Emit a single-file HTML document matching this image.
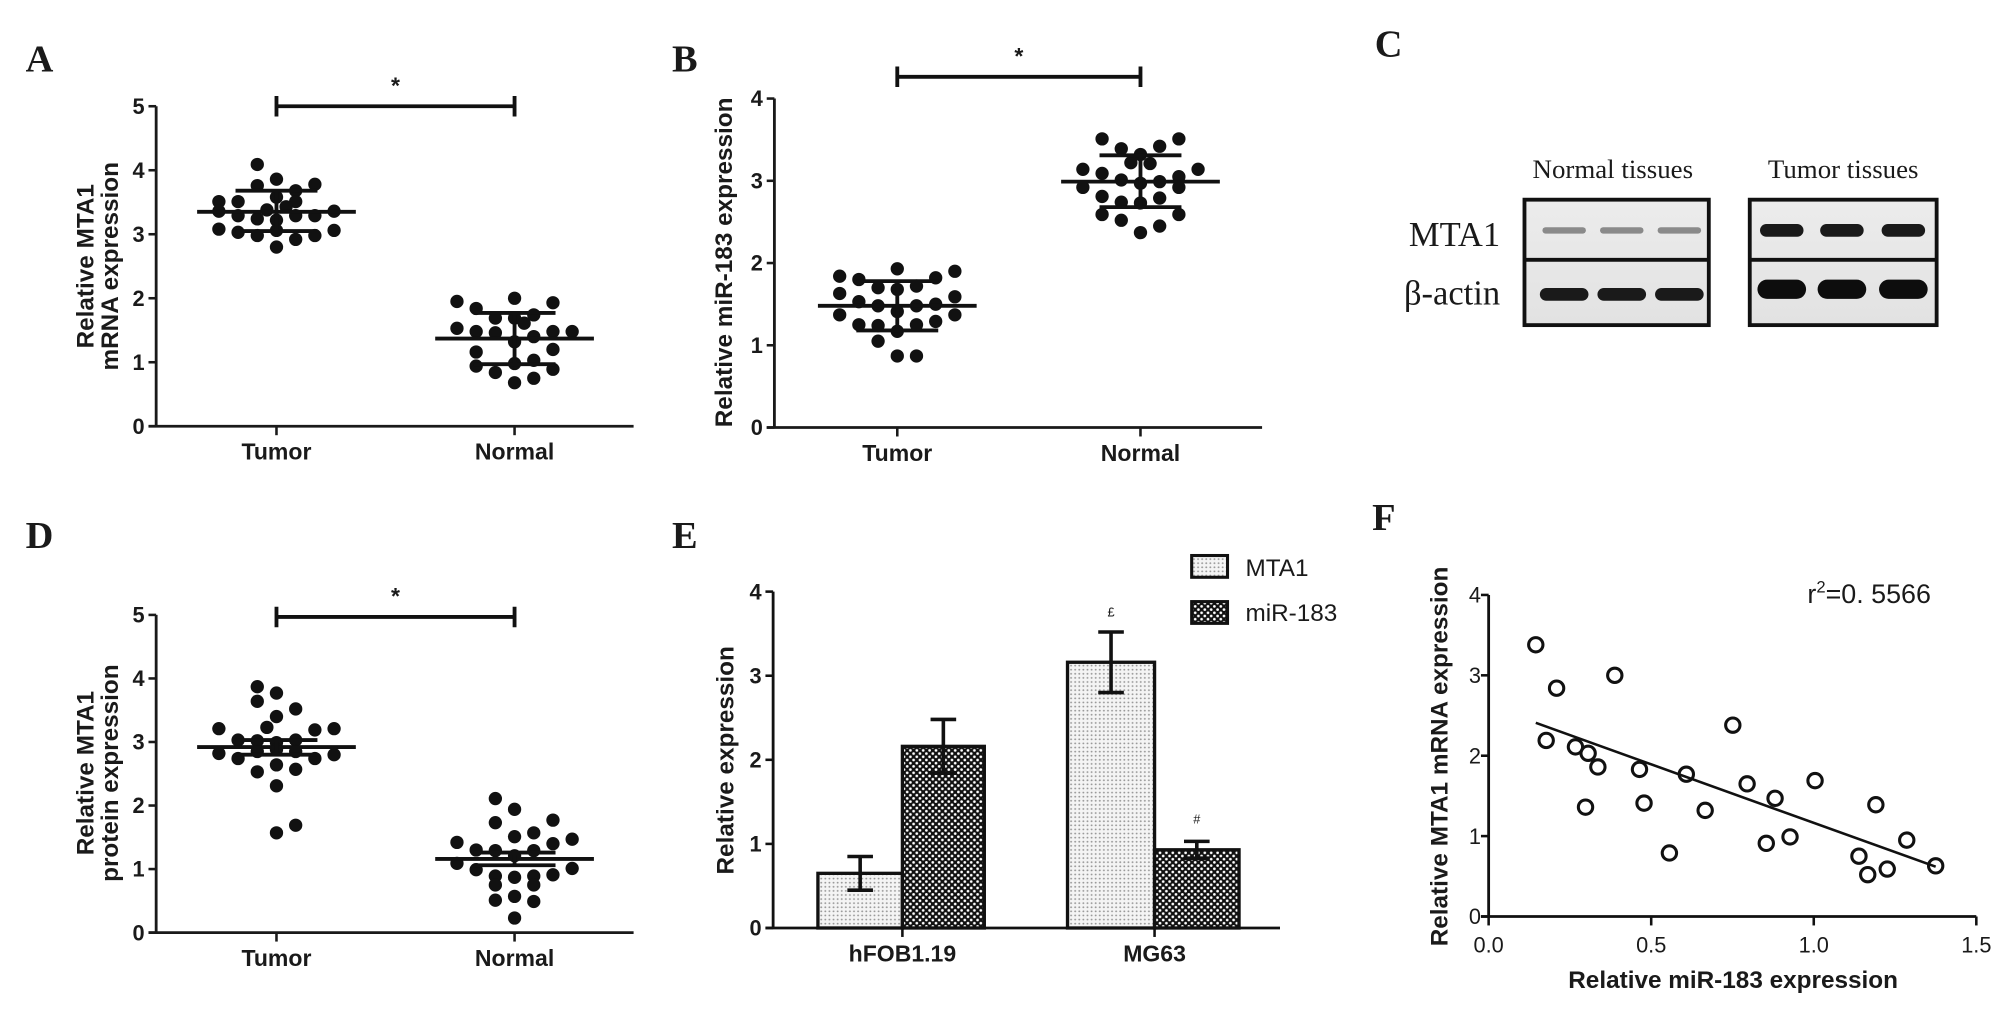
<!DOCTYPE html>
<html><head><meta charset="utf-8"><style>
html,body{margin:0;padding:0;background:#fff}
svg{display:block}
text{font-family:"Liberation Sans",Arial,sans-serif;fill:#1a1a1a}
.serif{font-family:"Liberation Serif","Times New Roman",serif}
</style></head><body>
<svg id="fig" width="2008" height="1016" viewBox="0 0 1568.75 793.75" preserveAspectRatio="none" xmlns="http://www.w3.org/2000/svg">
<defs>
<pattern id="dotPat" width="3.2" height="3.2" patternUnits="userSpaceOnUse"><rect width="3.2" height="3.2" fill="#f4f4f4"/><circle cx="1.6" cy="1.6" r="0.75" fill="#9a9a9a"/></pattern>
<pattern id="chkPat" width="5" height="5" patternUnits="userSpaceOnUse"><rect width="5" height="5" fill="#111"/><circle cx="1.25" cy="1.25" r="1.05" fill="#fff"/><circle cx="3.75" cy="3.75" r="1.05" fill="#fff"/></pattern>
<linearGradient id="blotBg" x1="0" y1="0" x2="0" y2="1"><stop offset="0" stop-color="#ececec"/><stop offset="1" stop-color="#e2e2e2"/></linearGradient>
</defs>
<g id="root"></g>
</svg>
<script>
// ---------- DATA ----------
const scatterCats = ["Tumor","Normal"];
const aTumor = [4.09,3.86,3.76,3.78,3.68,3.51,3.51,3.51,3.58,3.36,3.29,3.38,3.43,3.29,3.36,3.24,3.22,3.29,3.08,3.03,2.98,3.06,2.92,2.98,3.06,2.80];
const aTumorCol = [-1,0,-1,2,1,-3,-2,1,0,-3,-2,-0.5,0.5,2,3,-1,0,1,-3,-2,-1,0,1,2,3,0];
const aNormal = [1.95,2.0,1.93,1.84,1.69,1.74,1.69,1.61,1.53,1.48,1.46,1.40,1.48,1.48,1.32,1.16,1.20,0.94,0.84,0.98,1.03,0.89,0.68,0.75];
const aNormalCol = [-3,0,2,-2,-1,1,0,0.5,-3,-2,-1,1,2,3,0,-2,2,-2,-1,0,1,2,0,1];
const aStats = [[3.35,3.05,3.68],[1.37,0.97,1.77]];
const bTumor = [1.84,1.80,1.93,1.82,1.90,1.70,1.68,1.72,1.63,1.59,1.53,1.48,1.41,1.48,1.50,1.37,1.37,1.25,1.24,1.17,1.25,1.29,1.05,0.87,0.87];
const bTumorCol = [-3,-2,0,2,3,-1,0,1,-3,3,-2,-1,0,1,2,-3,3,-2,-1,0,1,2,-1,0,1];
const bNormal = [3.51,3.51,3.39,3.42,3.32,3.22,3.21,3.14,3.14,3.09,3.05,3.01,2.99,2.97,2.92,2.92,2.81,2.79,2.74,2.73,2.59,2.59,2.52,2.45,2.37];
const bNormalCol = [-2,2,-1,1,0,-0.5,0.5,-3,3,-2,2,-1,1,0,-3,2,-2,1,-1,0,-2,2,-1,1,0];
const bStats = [[1.48,1.18,1.78],[2.99,2.68,3.31]];
const dTumor = [3.87,3.64,3.77,3.52,3.40,3.21,3.23,3.19,3.21,3.03,3.02,2.99,3.03,2.82,2.74,2.85,2.88,2.85,2.74,2.80,2.53,2.64,2.57,2.31,1.57,1.69];
const dTumorCol = [-1,-1,0,1,0,-3,-0.5,2,3,-2,-1,0,1,-3,-2,-1,0,1,2,3,-1,0,1,0,0,1];
const dNormal = [2.11,1.94,1.77,1.73,1.57,1.51,1.47,1.42,1.40,1.30,1.29,1.21,1.29,1.09,0.99,1.01,0.89,0.87,0.89,0.91,0.75,0.75,0.51,0.57,0.49,0.23];
const dNormalCol = [-1,0,2,-1,1,0,3,-3,2,-2,-1,0,1,-3,-2,3,-1,0,1,2,-1,1,-1,0,1,0];
const dStats = [[2.92,2.80,3.03],[1.16,1.06,1.26]];
const barCats = ["hFOB1.19","MG63"];
const barMTA1 = [0.65,3.16];
const barMTA1Err = [0.20,0.36];
const barMiR = [2.16,0.93];
const barMiRErr = [0.32,0.10];
const fX = [0.145,0.209,0.388,0.177,0.267,0.306,0.336,0.298,0.464,0.478,0.556,0.608,0.666,0.751,0.795,0.881,0.854,0.927,1.004,1.139,1.166,1.191,1.226,1.286,1.375];
const fY = [3.38,2.84,3.00,2.19,2.11,2.03,1.86,1.36,1.83,1.41,0.79,1.77,1.32,2.38,1.65,1.47,0.91,0.99,1.69,0.75,0.52,1.39,0.59,0.95,0.63];
const fFit = [-1.455,2.62]; // slope, intercept
const fFitRange = [0.145,1.375];
const fXTicks = ["0.0","0.5","1.0","1.5"];

// ---------- helpers ----------
const NS="http://www.w3.org/2000/svg";
const root=document.getElementById('root');
function el(tag,attrs,parent){const e=document.createElementNS(NS,tag);for(const k in attrs)e.setAttribute(k,attrs[k]);(parent||root).appendChild(e);return e;}
function txt(s,attrs,parent){const t=el('text',attrs,parent);t.textContent=s;return t;}

function panelLabel(s,x,y){
  const t=txt(s,{x:x,y:y,'font-size':30,'font-weight':'bold',class:'serif'});
  
  
}

function scatterPanel(cfg){
  const g=el('g',{});
  
  
  const yS=v=>cfg.y0-(v/cfg.ymax)*(cfg.y0-cfg.ytop);
  const xC=[cfg.xT,cfg.xN];
  const colW=15;
  const ya=el('line',{x1:cfg.ax,y1:cfg.ytop,x2:cfg.ax,y2:cfg.y0,stroke:'#1a1a1a','stroke-width':2.2},g);
  
  
  const xa=el('line',{x1:cfg.ax-6,y1:cfg.y0,x2:cfg.xend,y2:cfg.y0,stroke:'#1a1a1a','stroke-width':2.2},g);
  
  
  for(let v=0;v<=cfg.ymax;v++){
    el('line',{x1:cfg.ax-6,y1:yS(v),x2:cfg.ax,y2:yS(v),stroke:'#1a1a1a','stroke-width':2},g);
    const t=txt(String(v),{x:cfg.ax-9,y:yS(v)+6,'font-size':17,'font-weight':'bold','text-anchor':'end'},g);
    
    
  }
  scatterCats.forEach((c,i)=>{
    el('line',{x1:xC[i],y1:cfg.y0,x2:xC[i],y2:cfg.y0+7,stroke:'#1a1a1a','stroke-width':2},g);
    const t=txt(c,{x:xC[i],y:cfg.y0+26,'font-size':18,'font-weight':'bold','text-anchor':'middle'},g);
    
    
  });
  const tg=el('g',{transform:`translate(${cfg.titleX},${cfg.titleY}) rotate(-90)`},g);
  
  
  cfg.title.forEach((line,i)=>{
    txt(line,{x:0,y:i*19,'font-size':19,'font-weight':'bold','text-anchor':'middle','xml:space':'preserve'},tg);
  });
  [[cfg.tumor,cfg.tumorCol],[cfg.normal,cfg.normalCol]].forEach((pair,gi)=>{
    pair[0].forEach((v,j)=>{
      const c=el('circle',{cx:xC[gi]+pair[1][j]*colW,cy:yS(v),r:5.2,fill:'#111'},g);
      
      
    });
  });
  cfg.stats.forEach((s,i)=>{
    const m=el('line',{x1:xC[i]-62,y1:yS(s[0]),x2:xC[i]+62,y2:yS(s[0]),stroke:'#111','stroke-width':3},g);
    
    
    const e=el('path',{d:`M${xC[i]},${yS(s[1])}V${yS(s[2])}M${xC[i]-32},${yS(s[1])}H${xC[i]+32}M${xC[i]-32},${yS(s[2])}H${xC[i]+32}`,stroke:'#111','stroke-width':3,fill:'none'},g);
    
    
  });
  const br=el('path',{d:`M${xC[0]},${cfg.brY}H${xC[1]}M${xC[0]},${cfg.brY-8}V${cfg.brY+8}M${xC[1]},${cfg.brY-8}V${cfg.brY+8}`,stroke:'#111','stroke-width':3,fill:'none'},g);
  
  
  const st=txt('*',{x:(xC[0]+xC[1])/2,y:cfg.brY-10,'font-size':18,'font-weight':'bold','text-anchor':'middle'},g);
  
  
}

panelLabel('A',20,56);
scatterPanel({name:'panel-a-mrna-scatter',ax:122,ytop:83,y0:333,ymax:5,xT:216,xN:402,xend:495,brY:83,
  tumor:aTumor,tumorCol:aTumorCol,normal:aNormal,normalCol:aNormalCol,stats:aStats,
  title:['Relative MTA1','mRNA expression'],titleX:73,titleY:208});
panelLabel('B',525,56);
scatterPanel({name:'panel-b-mir183-scatter',ax:605,ytop:77,y0:334,ymax:4,xT:701,xN:891,xend:986,brY:60,
  tumor:bTumor,tumorCol:bTumorCol,normal:bNormal,normalCol:bNormalCol,stats:bStats,
  title:['Relative miR-183 expression'],titleX:572,titleY:205});
panelLabel('D',20,428);
scatterPanel({name:'panel-d-protein-scatter',ax:122,ytop:480.4,y0:728.6,ymax:5,xT:216,xN:402,xend:495,brY:482,
  tumor:dTumor,tumorCol:dTumorCol,normal:dNormal,normalCol:dNormalCol,stats:dStats,
  title:['Relative MTA1','protein  expression'],titleX:73,titleY:604});

// ---------- Panel C (western blot) ----------
panelLabel('C',1074,44);
(function(){
  const g=el('g',{});
  
  
  const h1=txt('Normal tissues',{x:1260,y:139,'font-size':21,'text-anchor':'middle',class:'serif'},g);
  
  
  const h2=txt('Tumor tissues',{x:1440,y:139,'font-size':21,'text-anchor':'middle',class:'serif'},g);
  
  
  const l1=txt('MTA1',{x:1172,y:192,'font-size':27,'text-anchor':'end',class:'serif'},g);
  
  
  const l2=txt('β-actin',{x:1172,y:238,'font-size':27,'text-anchor':'end',class:'serif'},g);
  
  
  const boxes=[[1191,1335,[1222,1267,1312],2.5,'#8a8a8a',10,'#1a1a1a',230],[1367,1513,[1392,1439,1487],5,'#1a1a1a',15,'#0d0d0d',226]];
  boxes.forEach((b,i)=>{
    const r=el('rect',{x:b[0],y:156,width:b[1]-b[0],height:98,fill:'url(#blotBg)',stroke:'#111','stroke-width':3},g);
    
    
    el('line',{x1:b[0],y1:203,x2:b[1],y2:203,stroke:'#111','stroke-width':3},g);
    b[2].forEach(cx=>{
      const m=el('rect',{x:cx-17,y:180-b[3],width:34,height:b[3]*2,rx:b[3],fill:b[4]},g);
      
      
      const a=el('rect',{x:cx-19,y:b[7]-b[5]/2,width:38,height:b[5],rx:b[5]/2,fill:b[6]},g);
      
      
    });
  });
})();

// ---------- Panel E (bar chart) ----------
panelLabel('E',525,428);
(function(){
  const g=el('g',{});
  
  
  const ax=604,y0=725,ytop=462.2,ymax=4,xend=1000;
  const yS=v=>y0-(v/ymax)*(y0-ytop);
  const centers=[705,902];
  const bw=[66,68];
  el('line',{x1:ax,y1:ytop,x2:ax,y2:y0,stroke:'#111','stroke-width':2.2},g);
  el('line',{x1:ax-6,y1:y0,x2:xend,y2:y0,stroke:'#111','stroke-width':2.2},g);
  for(let v=0;v<=ymax;v++){
    el('line',{x1:ax-6,y1:yS(v),x2:ax,y2:yS(v),stroke:'#111','stroke-width':2},g);
    const t=txt(String(v),{x:ax-9,y:yS(v)+6,'font-size':17,'font-weight':'bold','text-anchor':'end'},g);
    
    
  }
  const tt=txt('Relative expression',{x:0,y:0,'font-size':19,'font-weight':'bold','text-anchor':'middle',transform:'translate(573,594) rotate(-90)'},g);
  
  
  barCats.forEach((c,i)=>{
    const cx=centers[i];
    const r1=el('rect',{x:cx-bw[i],y:yS(barMTA1[i]),width:bw[i],height:y0-yS(barMTA1[i]),fill:'url(#dotPat)',stroke:'#111','stroke-width':2.6},g);
    
    
    const r2=el('rect',{x:cx,y:yS(barMiR[i]),width:bw[i]-2,height:y0-yS(barMiR[i]),fill:'url(#chkPat)',stroke:'#111','stroke-width':2.6},g);
    
    
    [[cx-bw[i]/2,barMTA1[i],barMTA1Err[i]],[cx+(bw[i]-2)/2,barMiR[i],barMiRErr[i]]].forEach(e=>{
      const p=el('path',{d:`M${e[0]},${yS(e[1]-e[2])}V${yS(e[1]+e[2])}M${e[0]-10},${yS(e[1]+e[2])}H${e[0]+10}M${e[0]-10},${yS(e[1]-e[2])}H${e[0]+10}`,stroke:'#111','stroke-width':2.8,fill:'none'},g);
      
      
    });
    el('line',{x1:cx,y1:y0,x2:cx,y2:y0+7,stroke:'#111','stroke-width':2},g);
    const t=txt(c,{x:cx,y:751,'font-size':18,'font-weight':'bold','text-anchor':'middle'},g);
    
    
  });
  const s1=txt('£',{x:centers[1]-bw[1]/2,y:yS(barMTA1[1]+barMTA1Err[1])-12,'font-size':10,'text-anchor':'middle'},g);
  
  
  const s2=txt('#',{x:centers[1]+(bw[1]-2)/2,y:yS(barMiR[1]+barMiRErr[1])-14,'font-size':10,'text-anchor':'middle'},g);
  
  
  const lg=el('g',{},g);
  
  
  const lb1=el('rect',{x:931,y:434,width:28,height:17,fill:'url(#dotPat)',stroke:'#111','stroke-width':2.4},lg);
  
  
  const lt1=txt('MTA1',{x:973,y:450,'font-size':19},lg);
  
  
  const lb2=el('rect',{x:931,y:470,width:28,height:17,fill:'url(#chkPat)',stroke:'#111','stroke-width':2.4},lg);
  
  
  const lt2=txt('miR-183',{x:973,y:485,'font-size':19},lg);
  
  
})();

// ---------- Panel F (correlation) ----------
panelLabel('F',1072,414);
(function(){
  const g=el('g',{});
  
  
  const ax=1163,y0=716,ytop=464.8,ymax=4,xmax=1.5,xend=1544;
  const yS=v=>y0-(v/ymax)*(y0-ytop);
  const xS=v=>ax+(v/xmax)*(xend-ax);
  el('line',{x1:ax,y1:ytop,x2:ax,y2:y0,stroke:'#111','stroke-width':2.2},g);
  el('line',{x1:ax-6,y1:y0,x2:xend,y2:y0,stroke:'#111','stroke-width':2.2},g);
  for(let v=0;v<=ymax;v++){
    el('line',{x1:ax-6,y1:yS(v),x2:ax,y2:yS(v),stroke:'#111','stroke-width':2},g);
    const t=txt(String(v),{x:ax-6,y:yS(v)+6,'font-size':17,'text-anchor':'end'},g);
    
    
  }
  fXTicks.forEach(s=>{
    const v=parseFloat(s);
    el('line',{x1:xS(v),y1:y0,x2:xS(v),y2:y0+7,stroke:'#111','stroke-width':2},g);
    const t=txt(s,{x:xS(v),y:744,'font-size':17,'text-anchor':'middle'},g);
    
    
  });
  const xt=txt('Relative miR-183 expression',{x:1354,y:772,'font-size':19,'font-weight':'bold','text-anchor':'middle'},g);
  
  
  const yt=txt('Relative MTA1 mRNA  expression',{x:0,y:0,'font-size':19,'font-weight':'bold','text-anchor':'middle','xml:space':'preserve',transform:'translate(1131,591) rotate(-90)'},g);
  
  
  const fl=el('line',{x1:xS(fFitRange[0]),y1:yS(fFit[1]+fFit[0]*fFitRange[0]),x2:xS(fFitRange[1]),y2:yS(fFit[1]+fFit[0]*fFitRange[1]),stroke:'#111','stroke-width':2},g);
  
  
  fX.forEach((x,i)=>{
    const c=el('circle',{cx:xS(x),cy:yS(fY[i]),r:5.6,fill:'none',stroke:'#111','stroke-width':2.4},g);
    
    
  });
  const r=el('text',{x:1412,y:471,'font-size':21},g);
  
  
  r.innerHTML='r<tspan dy="-8" font-size="13">2</tspan><tspan dy="8">=0. 5566</tspan>';
})();
</script>
</body></html>
